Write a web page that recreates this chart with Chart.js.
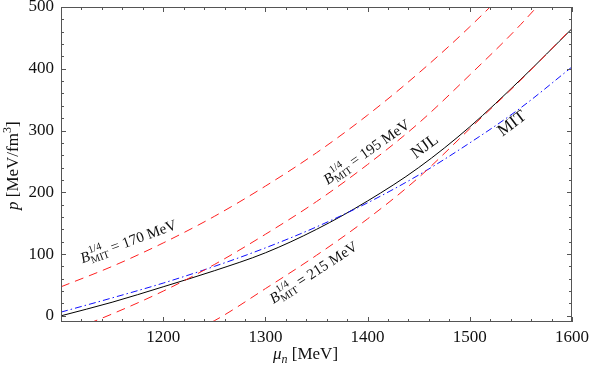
<!DOCTYPE html>
<html lang="en">
<head>
  <meta charset="UTF-8">
  <script src="https://cdn.jsdelivr.net/npm/chart.js"></script>
  <style>
    html, body { margin: 0; padding: 0; background: #fff; }
  </style>
</head>
<body>
  <canvas id="eosChart" width="589" height="368"></canvas>

  <script>
    // neutron chemical potential (MeV) and pressure (MeV/fm^3)
    const muValues = [1100, 1150, 1200, 1250, 1300, 1350, 1400, 1450, 1500, 1550, 1600];
    const pNJL    = [0, 22, 47, 73, 102, 140, 186, 240, 306, 383, 465];
    const pMIT    = [6, 29, 53, 80, 110, 144, 183, 228, 280, 337, 403];
    const pB170   = [47, 80, 118, 161, 210, 264, 325, 393, 468, 551, 642];
    const pB195   = [-30, 3, 40, 83, 132, 185, 245, 312, 390, 472, 565];
    const pB215   = [-117, -84, -46, -8, 44, 98, 157, 224, 303, 382, 466];

    const xTickValues = [1100, 1200, 1300, 1400, 1500, 1600];
    const yTickValues = [0, 100, 200, 300, 400, 500];

    const serif = '"Liberation Serif"';

    const toPoints = arr => arr.map((p, i) => ({ x: muValues[i], y: p }));

    function drawRich(ctx, parts, x, y, angle) {
      ctx.save();
      ctx.translate(x, y);
      ctx.rotate(angle * Math.PI / 180);
      ctx.textAlign = 'left';
      ctx.textBaseline = 'alphabetic';
      ctx.fillStyle = '#111';
      let cx = 0;
      for (const part of parts) {
        ctx.font = part.font;
        if (part.sup || part.sub) {
          let w = 0;
          const off = part.shift || 0;
          if (part.sup) {
            ctx.fillText(part.sup, cx + off, -part.rise);
            w = ctx.measureText(part.sup).width + off;
          }
          if (part.sub) {
            ctx.fillText(part.sub, cx, part.drop);
            w = Math.max(w, ctx.measureText(part.sub).width);
          }
          cx += w;
        } else {
          ctx.fillText(part.text, cx, 0);
          cx += ctx.measureText(part.text).width;
        }
      }
      ctx.restore();
    }

    function bagLabel(value) {
      return [
        { text: 'B', font: 'italic 15px ' + serif },
        { sup: '1/4', sub: 'MIT', font: '10.5px ' + serif, rise: 7, drop: 3.5, shift: 1 },
        { text: ' = ' + value + ' MeV', font: '15px ' + serif }
      ];
    }

    const curveLabels = [
      { mu: 1121, p: 85, angle: -20, parts: bagLabel(170) },
      { mu: 1361, p: 212, angle: -35, parts: bagLabel(195) },
      { mu: 1308, p: 19, angle: -33, parts: bagLabel(215) },
      { mu: 1447, p: 254, angle: -36, parts: [{ text: 'NJL', font: '17px ' + serif }] },
      { mu: 1532, p: 290, angle: -37, parts: [{ text: 'MIT', font: '17px ' + serif }] }
    ];

    const frameTicks = {
      id: 'frameTicks',
      afterDatasetsDraw(chart) {
        const { ctx, chartArea: a, scales: { x, y } } = chart;
        ctx.save();
        ctx.strokeStyle = '#555';
        ctx.lineWidth = 1;
        ctx.strokeRect(a.left + 0.5, a.top + 0.5, a.right - a.left - 1, a.bottom - a.top - 1);
        ctx.beginPath();
        for (let v = 1100; v <= 1600; v += 20) {
          const px = Math.round(x.getPixelForValue(v)) + 0.5;
          const len = v % 100 === 0 ? 5 : 3;
          ctx.moveTo(px, a.bottom); ctx.lineTo(px, a.bottom - len);
          ctx.moveTo(px, a.top); ctx.lineTo(px, a.top + len);
        }
        for (let v = 0; v <= 500; v += 20) {
          const py = Math.round(y.getPixelForValue(v)) + 0.5;
          const len = v % 100 === 0 ? 5 : 3;
          ctx.moveTo(a.left, py); ctx.lineTo(a.left + len, py);
          ctx.moveTo(a.right, py); ctx.lineTo(a.right - len, py);
        }
        ctx.stroke();
        ctx.restore();

        curveLabels.forEach(l => {
          drawRich(ctx, l.parts, x.getPixelForValue(l.mu), y.getPixelForValue(l.p), l.angle);
        });

        // axis titles
        drawRich(ctx, [
          { text: 'μ', font: 'italic 17px ' + serif },
          { sub: 'n', font: 'italic 12px ' + serif, drop: 4 },
          { text: ' [MeV]', font: '17px ' + serif }
        ], 273, 359, 0);
        drawRich(ctx, [
          { text: 'p', font: 'italic 17px ' + serif },
          { text: ' [MeV/fm', font: '17px ' + serif },
          { sup: '3', font: '12px ' + serif, rise: 7 },
          { text: ']', font: '17px ' + serif }
        ], 18, 210, -90);
      }
    };

    function renderChart() {
      const ctx = document.getElementById('eosChart').getContext('2d');

      new Chart(ctx, {
        type: 'line',
        data: {
          datasets: [
            { label: 'B170', data: toPoints(pB170), borderColor: 'rgb(255,30,30)', borderDash: [9, 6] },
            { label: 'B195', data: toPoints(pB195), borderColor: 'rgb(255,30,30)', borderDash: [9, 6] },
            { label: 'B215', data: toPoints(pB215), borderColor: 'rgb(255,30,30)', borderDash: [9, 6] },
            { label: 'MIT', data: toPoints(pMIT), borderColor: '#1010ff', borderDash: [7, 3, 1.5, 3] },
            { label: 'NJL', data: toPoints(pNJL), borderColor: '#000' }
          ]
        },
        options: {
          responsive: false,
          animation: false,
          devicePixelRatio: 1,
          layout: { padding: { top: 7, right: 17, left: 0, bottom: 0 } },
          elements: {
            line: { borderWidth: 1, cubicInterpolationMode: 'monotone', fill: false },
            point: { radius: 0 }
          },
          plugins: {
            legend: { display: false },
            tooltip: { enabled: false }
          },
          scales: {
            x: {
              type: 'linear',
              min: 1100,
              max: 1600,
              afterBuildTicks: s => { s.ticks = xTickValues.map(v => ({ value: v })); },
              afterFit: s => { s.height = 46; s.paddingLeft = 0; s.paddingRight = 0; },
              grid: { display: false, drawTicks: false },
              border: { display: false },
              ticks: {
                color: '#111',
                padding: 5,
                maxRotation: 0,
                autoSkip: false,
                font: { family: serif, size: 17 },
                callback: v => v === 1100 ? '' : v
              }
            },
            y: {
              type: 'linear',
              min: -10,
              max: 500,
              afterBuildTicks: s => { s.ticks = yTickValues.map(v => ({ value: v })); },
              afterFit: s => { s.width = 61; s.paddingTop = 0; s.paddingBottom = 0; },
              grid: { display: false, drawTicks: false },
              border: { display: false },
              ticks: {
                color: '#111',
                padding: 7,
                autoSkip: false,
                font: { family: serif, size: 17 }
              }
            }
          }
        },
        plugins: [frameTicks]
      });
    }

    Promise.all([
      document.fonts.load('17px "Liberation Serif"'),
      document.fonts.load('italic 17px "Liberation Serif"')
    ]).then(renderChart, renderChart);
  </script>
</body>
</html>
